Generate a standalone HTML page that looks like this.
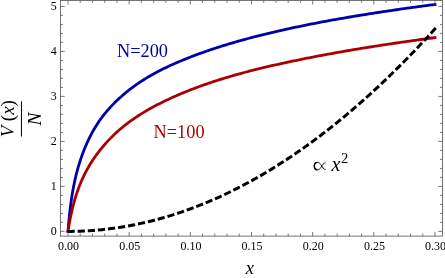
<!DOCTYPE html>
<html><head><meta charset="utf-8"><title>plot</title>
<style>
html,body{margin:0;padding:0;background:#fff;}
body{width:445px;height:278px;overflow:hidden;font-family:"Liberation Serif",serif;}
svg{display:block;will-change:transform;}
svg text{font-family:"Liberation Serif",serif;}
</style></head><body>
<svg width="445" height="278" viewBox="0 0 445 278">
<rect width="445" height="278" fill="#fff"/>
<g fill="none" stroke-linejoin="round">
<path d="M68.00,231.40 L68.01,231.33 L68.02,231.11 L68.05,230.76 L68.09,230.27 L68.14,229.64 L68.20,228.89 L68.27,228.01 L68.35,227.02 L68.44,225.92 L68.55,224.71 L68.66,223.42 L68.79,222.04 L68.92,220.57 L69.07,219.04 L69.23,217.45 L69.40,215.80 L69.58,214.11 L69.77,212.37 L69.97,210.59 L70.19,208.79 L70.41,206.96 L70.65,205.11 L70.89,203.25 L71.15,201.37 L71.42,199.49 L71.70,197.62 L71.99,195.75 L72.29,193.88 L72.60,192.02 L72.92,190.18 L73.26,188.34 L73.60,186.52 L73.96,184.71 L74.32,182.92 L74.70,181.14 L75.09,179.37 L75.49,177.63 L75.90,175.90 L76.32,174.18 L76.75,172.48 L77.20,170.80 L77.65,169.13 L78.12,167.48 L78.59,165.85 L79.08,164.23 L79.58,162.63 L80.09,161.04 L80.60,159.46 L81.14,157.90 L81.68,156.36 L82.23,154.82 L82.79,153.30 L83.37,151.80 L83.95,150.30 L84.55,148.82 L85.16,147.34 L85.77,145.87 L86.40,144.42 L87.04,142.97 L87.70,141.54 L88.36,140.12 L89.03,138.71 L89.71,137.31 L90.41,135.93 L91.11,134.56 L91.83,133.21 L92.56,131.88 L93.30,130.55 L94.05,129.25 L94.81,127.96 L95.58,126.68 L96.36,125.43 L97.15,124.19 L97.96,122.96 L98.77,121.76 L99.60,120.57 L100.44,119.39 L101.28,118.22 L102.14,117.07 L103.01,115.93 L103.89,114.80 L104.79,113.68 L105.69,112.58 L106.60,111.48 L107.53,110.40 L108.46,109.33 L109.41,108.26 L110.37,107.21 L111.33,106.17 L112.31,105.13 L113.30,104.11 L114.31,103.09 L115.32,102.09 L116.34,101.09 L117.37,100.10 L118.42,99.12 L119.48,98.14 L120.54,97.18 L121.62,96.22 L122.71,95.26 L123.81,94.32 L124.92,93.38 L126.04,92.45 L127.17,91.53 L128.32,90.62 L129.47,89.71 L130.64,88.81 L131.81,87.92 L133.00,87.04 L134.20,86.17 L135.41,85.30 L136.63,84.44 L137.86,83.59 L139.10,82.74 L140.35,81.90 L141.62,81.08 L142.89,80.25 L144.18,79.44 L145.47,78.63 L146.78,77.83 L148.10,77.04 L149.43,76.26 L150.77,75.48 L152.12,74.71 L153.48,73.95 L154.86,73.20 L156.24,72.45 L157.63,71.72 L159.04,70.98 L160.46,70.26 L161.89,69.54 L163.32,68.83 L164.77,68.12 L166.23,67.42 L167.71,66.72 L169.19,66.03 L170.68,65.35 L172.19,64.67 L173.70,63.99 L175.23,63.32 L176.77,62.65 L178.31,61.99 L179.87,61.33 L181.44,60.67 L183.02,60.02 L184.62,59.37 L186.22,58.72 L187.83,58.08 L189.46,57.44 L191.09,56.80 L192.74,56.17 L194.40,55.54 L196.07,54.92 L197.75,54.29 L199.44,53.67 L201.14,53.06 L202.85,52.45 L204.57,51.84 L206.31,51.23 L208.05,50.63 L209.81,50.03 L211.58,49.44 L213.35,48.85 L215.14,48.26 L216.94,47.68 L218.75,47.09 L220.58,46.52 L222.41,45.94 L224.25,45.37 L226.11,44.80 L227.97,44.24 L229.85,43.68 L231.74,43.12 L233.64,42.57 L235.54,42.01 L237.47,41.47 L239.40,40.92 L241.34,40.38 L243.29,39.84 L245.26,39.30 L247.23,38.77 L249.22,38.24 L251.21,37.71 L253.22,37.19 L255.24,36.66 L257.27,36.14 L259.31,35.63 L261.36,35.11 L263.42,34.60 L265.50,34.09 L267.58,33.59 L269.68,33.08 L271.78,32.58 L273.90,32.08 L276.03,31.59 L278.17,31.09 L280.32,30.60 L282.48,30.11 L284.65,29.63 L286.83,29.14 L289.03,28.66 L291.23,28.19 L293.45,27.71 L295.67,27.24 L297.91,26.76 L300.16,26.30 L302.42,25.83 L304.69,25.37 L306.97,24.90 L309.26,24.44 L311.57,23.99 L313.88,23.53 L316.21,23.08 L318.54,22.63 L320.89,22.18 L323.25,21.74 L325.62,21.29 L328.00,20.85 L330.39,20.41 L332.79,19.98 L335.20,19.55 L337.63,19.12 L340.06,18.69 L342.51,18.26 L344.96,17.84 L347.43,17.42 L349.91,17.00 L352.40,16.58 L354.90,16.16 L357.41,15.75 L359.93,15.34 L362.46,14.93 L365.01,14.52 L367.56,14.11 L370.13,13.71 L372.70,13.31 L375.29,12.90 L377.89,12.50 L380.50,12.11 L383.12,11.71 L385.75,11.32 L388.39,10.92 L391.05,10.53 L393.71,10.14 L396.39,9.75 L399.07,9.37 L401.77,8.98 L404.48,8.60 L407.20,8.21 L409.93,7.83 L412.67,7.45 L415.42,7.07 L418.18,6.69 L420.96,6.31 L423.74,5.94 L426.54,5.56 L429.34,5.19 L432.16,4.82 L434.99,4.45" stroke="#0000aa" stroke-width="2.8" stroke-linecap="square"/>
<path d="M68.00,231.40 L68.01,231.36 L68.02,231.26 L68.05,231.08 L68.09,230.83 L68.14,230.51 L68.20,230.13 L68.27,229.68 L68.35,229.16 L68.44,228.58 L68.55,227.95 L68.66,227.25 L68.79,226.50 L68.92,225.69 L69.07,224.84 L69.23,223.94 L69.40,222.99 L69.58,222.01 L69.77,220.98 L69.97,219.92 L70.19,218.82 L70.41,217.69 L70.65,216.54 L70.89,215.36 L71.15,214.16 L71.42,212.93 L71.70,211.69 L71.99,210.43 L72.29,209.15 L72.60,207.86 L72.92,206.57 L73.26,205.26 L73.60,203.94 L73.96,202.62 L74.32,201.29 L74.70,199.97 L75.09,198.64 L75.49,197.31 L75.90,195.99 L76.32,194.67 L76.75,193.35 L77.20,192.04 L77.65,190.73 L78.12,189.43 L78.59,188.13 L79.08,186.85 L79.58,185.56 L80.09,184.29 L80.60,183.02 L81.14,181.76 L81.68,180.51 L82.23,179.26 L82.79,178.03 L83.37,176.80 L83.95,175.58 L84.55,174.37 L85.16,173.16 L85.77,171.97 L86.40,170.78 L87.04,169.60 L87.70,168.43 L88.36,167.27 L89.03,166.11 L89.71,164.96 L90.41,163.82 L91.11,162.69 L91.83,161.56 L92.56,160.45 L93.30,159.33 L94.05,158.23 L94.81,157.13 L95.58,156.04 L96.36,154.96 L97.15,153.88 L97.96,152.81 L98.77,151.75 L99.60,150.69 L100.44,149.64 L101.28,148.59 L102.14,147.54 L103.01,146.50 L103.89,145.47 L104.79,144.44 L105.69,143.42 L106.60,142.40 L107.53,141.39 L108.46,140.38 L109.41,139.38 L110.37,138.39 L111.33,137.41 L112.31,136.43 L113.30,135.46 L114.31,134.49 L115.32,133.53 L116.34,132.58 L117.37,131.64 L118.42,130.71 L119.48,129.78 L120.54,128.86 L121.62,127.95 L122.71,127.05 L123.81,126.16 L124.92,125.27 L126.04,124.39 L127.17,123.53 L128.32,122.67 L129.47,121.81 L130.64,120.97 L131.81,120.13 L133.00,119.30 L134.20,118.48 L135.41,117.66 L136.63,116.84 L137.86,116.04 L139.10,115.24 L140.35,114.44 L141.62,113.66 L142.89,112.87 L144.18,112.10 L145.47,111.33 L146.78,110.56 L148.10,109.80 L149.43,109.04 L150.77,108.29 L152.12,107.55 L153.48,106.80 L154.86,106.07 L156.24,105.34 L157.63,104.61 L159.04,103.89 L160.46,103.17 L161.89,102.46 L163.32,101.75 L164.77,101.04 L166.23,100.34 L167.71,99.65 L169.19,98.95 L170.68,98.27 L172.19,97.58 L173.70,96.90 L175.23,96.22 L176.77,95.55 L178.31,94.88 L179.87,94.21 L181.44,93.55 L183.02,92.89 L184.62,92.23 L186.22,91.58 L187.83,90.94 L189.46,90.29 L191.09,89.65 L192.74,89.02 L194.40,88.39 L196.07,87.76 L197.75,87.13 L199.44,86.51 L201.14,85.90 L202.85,85.28 L204.57,84.68 L206.31,84.07 L208.05,83.47 L209.81,82.87 L211.58,82.28 L213.35,81.69 L215.14,81.10 L216.94,80.52 L218.75,79.94 L220.58,79.37 L222.41,78.80 L224.25,78.23 L226.11,77.67 L227.97,77.11 L229.85,76.55 L231.74,76.00 L233.64,75.45 L235.54,74.91 L237.47,74.37 L239.40,73.83 L241.34,73.30 L243.29,72.77 L245.26,72.25 L247.23,71.73 L249.22,71.21 L251.21,70.69 L253.22,70.18 L255.24,69.67 L257.27,69.17 L259.31,68.67 L261.36,68.17 L263.42,67.67 L265.50,67.18 L267.58,66.68 L269.68,66.20 L271.78,65.71 L273.90,65.23 L276.03,64.74 L278.17,64.27 L280.32,63.79 L282.48,63.31 L284.65,62.84 L286.83,62.37 L289.03,61.90 L291.23,61.44 L293.45,60.97 L295.67,60.51 L297.91,60.05 L300.16,59.59 L302.42,59.13 L304.69,58.67 L306.97,58.22 L309.26,57.77 L311.57,57.31 L313.88,56.86 L316.21,56.42 L318.54,55.97 L320.89,55.52 L323.25,55.08 L325.62,54.64 L328.00,54.20 L330.39,53.76 L332.79,53.33 L335.20,52.89 L337.63,52.46 L340.06,52.03 L342.51,51.60 L344.96,51.17 L347.43,50.75 L349.91,50.32 L352.40,49.90 L354.90,49.48 L357.41,49.06 L359.93,48.65 L362.46,48.23 L365.01,47.82 L367.56,47.41 L370.13,47.00 L372.70,46.59 L375.29,46.18 L377.89,45.78 L380.50,45.37 L383.12,44.97 L385.75,44.57 L388.39,44.17 L391.05,43.78 L393.71,43.38 L396.39,42.99 L399.07,42.59 L401.77,42.20 L404.48,41.82 L407.20,41.43 L409.93,41.04 L412.67,40.66 L415.42,40.28 L418.18,39.89 L420.96,39.51 L423.74,39.14 L426.54,38.76 L429.34,38.38 L432.16,38.01 L434.99,37.64" stroke="#aa0000" stroke-width="2.8" stroke-linecap="square"/>
<path d="M68.00,231.40 L71.08,231.39 L74.17,231.34 L77.25,231.27 L80.34,231.17 L83.42,231.04 L86.50,230.89 L89.59,230.70 L92.67,230.48 L95.76,230.24 L98.84,229.97 L101.92,229.67 L105.01,229.34 L108.09,228.98 L111.18,228.60 L114.26,228.18 L117.34,227.74 L120.43,227.27 L123.51,226.77 L126.60,226.24 L129.68,225.68 L132.76,225.09 L135.85,224.48 L138.93,223.84 L142.01,223.16 L145.10,222.46 L148.18,221.73 L151.27,220.98 L154.35,220.19 L157.43,219.37 L160.52,218.53 L163.60,217.66 L166.69,216.76 L169.77,215.83 L172.85,214.87 L175.94,213.88 L179.02,212.87 L182.11,211.82 L185.19,210.75 L188.27,209.65 L191.36,208.52 L194.44,207.36 L197.53,206.18 L200.61,204.96 L203.69,203.72 L206.78,202.44 L209.86,201.14 L212.95,199.81 L216.03,198.45 L219.11,197.07 L222.20,195.65 L225.28,194.21 L228.37,192.73 L231.45,191.23 L234.53,189.70 L237.62,188.14 L240.70,186.56 L243.79,184.94 L246.87,183.30 L249.95,181.62 L253.04,179.92 L256.12,178.19 L259.20,176.43 L262.29,174.64 L265.37,172.83 L268.46,170.98 L271.54,169.11 L274.62,167.21 L277.71,165.28 L280.79,163.32 L283.88,161.33 L286.96,159.31 L290.04,157.27 L293.13,155.20 L296.21,153.09 L299.30,150.96 L302.38,148.80 L305.46,146.62 L308.55,144.40 L311.63,142.15 L314.72,139.88 L317.80,137.58 L320.88,135.25 L323.97,132.89 L327.05,130.50 L330.14,128.08 L333.22,125.64 L336.30,123.16 L339.39,120.66 L342.47,118.13 L345.56,115.57 L348.64,112.98 L351.72,110.37 L354.81,107.72 L357.89,105.05 L360.98,102.34 L364.06,99.61 L367.14,96.85 L370.23,94.06 L373.31,91.25 L376.39,88.40 L379.48,85.53 L382.56,82.62 L385.65,79.69 L388.73,76.73 L391.81,73.74 L394.90,70.73 L397.98,67.68 L401.07,64.61 L404.15,61.50 L407.23,58.37 L410.32,55.21 L413.40,52.02 L416.49,48.81 L419.57,45.56 L422.65,42.28 L425.74,38.98 L428.82,35.65 L431.91,32.29 L434.99,28.90" stroke="#000" stroke-width="3" stroke-linecap="square" stroke-dasharray="4.2,5.945" stroke-dashoffset="-1.0"/>
</g>
<rect x="60.5" y="0.4" width="382.00" height="235.70" fill="none" stroke="#505050" stroke-width="0.8"/>
<path d="M68.00,236.1v-4.2M68.00,0.4v4.2M80.23,236.1v-2.5M80.23,0.4v2.5M92.47,236.1v-2.5M92.47,0.4v2.5M104.70,236.1v-2.5M104.70,0.4v2.5M116.93,236.1v-2.5M116.93,0.4v2.5M129.17,236.1v-4.2M129.17,0.4v4.2M141.40,236.1v-2.5M141.40,0.4v2.5M153.63,236.1v-2.5M153.63,0.4v2.5M165.86,236.1v-2.5M165.86,0.4v2.5M178.10,236.1v-2.5M178.10,0.4v2.5M190.33,236.1v-4.2M190.33,0.4v4.2M202.56,236.1v-2.5M202.56,0.4v2.5M214.80,236.1v-2.5M214.80,0.4v2.5M227.03,236.1v-2.5M227.03,0.4v2.5M239.26,236.1v-2.5M239.26,0.4v2.5M251.50,236.1v-4.2M251.50,0.4v4.2M263.73,236.1v-2.5M263.73,0.4v2.5M275.96,236.1v-2.5M275.96,0.4v2.5M288.19,236.1v-2.5M288.19,0.4v2.5M300.43,236.1v-2.5M300.43,0.4v2.5M312.66,236.1v-4.2M312.66,0.4v4.2M324.89,236.1v-2.5M324.89,0.4v2.5M337.13,236.1v-2.5M337.13,0.4v2.5M349.36,236.1v-2.5M349.36,0.4v2.5M361.59,236.1v-2.5M361.59,0.4v2.5M373.82,236.1v-4.2M373.82,0.4v4.2M386.06,236.1v-2.5M386.06,0.4v2.5M398.29,236.1v-2.5M398.29,0.4v2.5M410.52,236.1v-2.5M410.52,0.4v2.5M422.76,236.1v-2.5M422.76,0.4v2.5M434.99,236.1v-4.2M434.99,0.4v4.2M60.5,231.40h4.2M442.5,231.40h-4.2M60.5,222.40h2.5M442.5,222.40h-2.5M60.5,213.40h2.5M442.5,213.40h-2.5M60.5,204.40h2.5M442.5,204.40h-2.5M60.5,195.40h2.5M442.5,195.40h-2.5M60.5,186.40h4.2M442.5,186.40h-4.2M60.5,177.40h2.5M442.5,177.40h-2.5M60.5,168.40h2.5M442.5,168.40h-2.5M60.5,159.40h2.5M442.5,159.40h-2.5M60.5,150.40h2.5M442.5,150.40h-2.5M60.5,141.40h4.2M442.5,141.40h-4.2M60.5,132.40h2.5M442.5,132.40h-2.5M60.5,123.40h2.5M442.5,123.40h-2.5M60.5,114.40h2.5M442.5,114.40h-2.5M60.5,105.40h2.5M442.5,105.40h-2.5M60.5,96.40h4.2M442.5,96.40h-4.2M60.5,87.40h2.5M442.5,87.40h-2.5M60.5,78.40h2.5M442.5,78.40h-2.5M60.5,69.40h2.5M442.5,69.40h-2.5M60.5,60.40h2.5M442.5,60.40h-2.5M60.5,51.40h4.2M442.5,51.40h-4.2M60.5,42.40h2.5M442.5,42.40h-2.5M60.5,33.40h2.5M442.5,33.40h-2.5M60.5,24.40h2.5M442.5,24.40h-2.5M60.5,15.40h2.5M442.5,15.40h-2.5M60.5,6.40h4.2M442.5,6.40h-4.2" fill="none" stroke="#505050" stroke-width="0.75"/>
<g font-size="12" fill="#000"><text x="68.60" y="250.1" text-anchor="middle">0.00</text><text x="129.76" y="250.1" text-anchor="middle">0.05</text><text x="190.93" y="250.1" text-anchor="middle">0.10</text><text x="252.09" y="250.1" text-anchor="middle">0.15</text><text x="313.26" y="250.1" text-anchor="middle">0.20</text><text x="374.43" y="250.1" text-anchor="middle">0.25</text><text x="435.59" y="250.1" text-anchor="middle">0.30</text><text x="56.8" y="235.40" text-anchor="end">0</text><text x="56.8" y="190.40" text-anchor="end">1</text><text x="56.8" y="145.40" text-anchor="end">2</text><text x="56.8" y="100.40" text-anchor="end">3</text><text x="56.8" y="55.40" text-anchor="end">4</text><text x="56.8" y="10.40" text-anchor="end">5</text></g>
<text x="117" y="57" font-size="18.3" fill="#0000aa">N=200</text>
<text x="153.6" y="137.9" font-size="18.3" fill="#aa0000">N=100</text>
<g fill="#000">
<path d="M325.6,162.7C323.5,162.8 322.5,165 321,167.4C320,169 318.8,169.8 317.4,169.8C315.3,169.8 314.3,168.2 314.3,166.1C314.3,164 315.3,162.4 317.4,162.4C318.8,162.4 320,163.2 321,164.8C322.5,167.2 323.5,169.4 325.6,169.5" fill="none" stroke="#000" stroke-width="0.95"/>
<path d="M317.4,169.8C315.3,169.8 314.3,168.2 314.3,166.1C314.3,164 315.3,162.4 317.4,162.4" fill="none" stroke="#000" stroke-width="1.4"/>
<text x="331.4" y="170.8" font-size="20" font-style="italic">x</text>
<text x="340.9" y="162.5" font-size="14.5">2</text>
<text x="245.7" y="274.1" font-size="18.5" font-style="italic">x</text>
<g transform="translate(14,118) rotate(-90)">
<text x="-0.6" y="0" font-size="19" font-style="italic" text-anchor="middle">V <tspan font-style="normal">(</tspan>x<tspan font-style="normal">)</tspan></text>
<rect x="-18.5" y="6.95" width="35.2" height="1" />
<text x="-1.0" y="26.9" font-size="19.3" font-style="italic" text-anchor="middle">N</text>
</g>
</g>
</svg>
</body></html>
